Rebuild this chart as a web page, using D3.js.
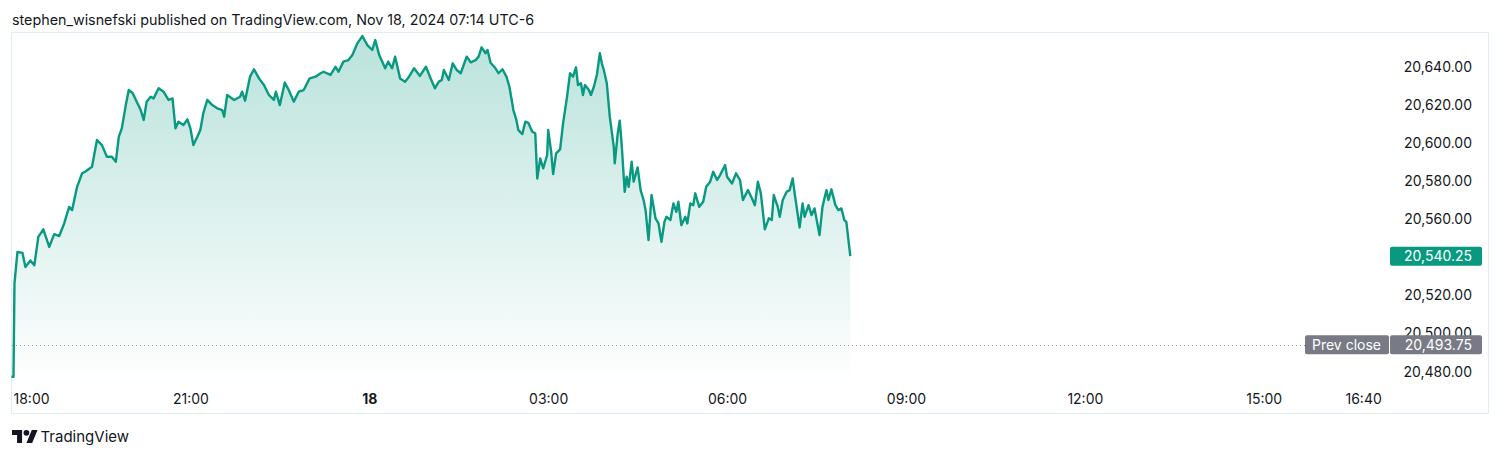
<!DOCTYPE html>
<html><head><meta charset="utf-8">
<script src="https://cdn.jsdelivr.net/npm/d3@7/dist/d3.min.js"></script>
<style>
html,body{margin:0;padding:0;background:#fff;}
svg{display:block;font-family:Inter,"Noto Sans",sans-serif;}
</style></head>
<body>
<svg id="chart" width="1500" height="457"></svg>
<script>
// minutes after 18:00 (Nov 17) and price
const minutes = [0,2,3,6,11,14,19,23,27,32,38,43,48,53,58,61,66,71,74,81,86,91,96,101,105,108,111,115,118,122,126,130,133,136,140,143,148,153,158,162,165,168,173,177,180,183,187,190,193,197,202,207,212,214,217,224,230,232,235,240,244,249,254,259,264,266,270,275,279,284,289,294,300,306,311,314,321,326,329,334,339,343,348,353,358,363,366,370,376,379,383,386,391,396,400,405,411,417,421,426,430,433,435,440,444,448,452,458,462,467,470,473,477,479,482,487,490,494,498,501,505,508,510,514,517,520,524,527,529,532,535,539,540,543,545,548,552,555,559,562,565,568,570,573,575,577,581,583,586,589,592,594,596,599,602,606,607,610,612,614,617,619,621,624,626,630,633,636,638,641,644,648,651,654,657,659,663,666,669,671,674,678,680,683,686,688,692,696,699,703,706,710,713,718,720,725,729,733,736,741,745,748,751,754,758,762,765,767,771,773,776,780,783,786,788,793,796,798,802,805,808,813,816,820,822,825,829,832,835,838,840,844];
const prices = [20477,20477,20526,20542.5,20542,20534.6,20538,20535.5,20550.4,20554.3,20545.1,20551.8,20550.8,20557.4,20566.1,20564.4,20576.6,20583.7,20584.5,20587.1,20601.2,20598.5,20592.4,20592.4,20589.8,20602.9,20607.3,20619.5,20627.4,20625.7,20621.3,20616.9,20611.7,20621.3,20623.9,20623,20628.3,20626.5,20622.2,20623,20607.3,20610.8,20609,20612,20607.3,20598.5,20602.9,20606.4,20615.2,20622.2,20619.5,20617.8,20616.9,20613.4,20624.8,20622.2,20623.9,20626.5,20621.8,20634.4,20638.3,20633.5,20630,20624.8,20622.2,20626.5,20619.5,20631.3,20627.4,20621.3,20626.5,20627.4,20633.5,20634.4,20636.2,20637,20635.3,20639.6,20637,20642.3,20643.1,20645.8,20651.9,20655.7,20651,20648.4,20653.6,20645.8,20638.8,20642.3,20638.8,20644.9,20633.5,20631.8,20634.4,20638.8,20634.8,20639.6,20634.4,20628.3,20631.8,20632.7,20637.9,20632.7,20641.4,20637.9,20636.2,20644.9,20641.9,20643.1,20644.9,20649.8,20646.7,20648.4,20641.7,20638.8,20636.2,20638.3,20634.4,20629.1,20616.9,20611.7,20606.4,20604.3,20610.8,20610.2,20605.5,20604.7,20581,20591.5,20586.3,20593.3,20606.4,20595,20583.3,20594.2,20596.3,20609.9,20623.9,20636.2,20634.4,20639.3,20630,20630.9,20624.8,20630,20627.4,20624.8,20629.1,20635.3,20646.7,20641.4,20637.9,20630.9,20613.4,20597.6,20588.9,20604.7,20611.3,20598.5,20574,20581.9,20576.6,20589.8,20579.3,20586.8,20574.9,20569.7,20564.4,20548.7,20572.3,20560.1,20557.4,20547.8,20558.2,20560.9,20559.2,20567.9,20563.5,20568.8,20556.5,20560.9,20557.4,20567.9,20567,20573.2,20566.1,20568.8,20576.6,20579.3,20584.5,20580.2,20582.8,20588,20581.9,20578.4,20583.7,20580.2,20569.7,20574.9,20570.6,20567,20579.3,20573.2,20554.3,20560.1,20559.2,20572.3,20566.1,20560.9,20569.7,20574,20574.9,20581,20573.2,20555.3,20567.9,20560.9,20567,20561.8,20565.3,20551.3,20566.1,20574.9,20569.7,20575.3,20567,20564.4,20565.3,20559.2,20558.2,20540.25];
const priceTicks = [20480,20500,20520,20540,20560,20580,20600,20620,20640];
const timeTickMinutes = [0,180,360,540,720,900,1080,1260,1360];
const lastPrice = 20540.25;
const prevClose = 20493.75;
const headerText = "stephen_wisnefski published on TradingView.com, Nov 18, 2024 07:14 UTC-6";

const base = new Date(2024,10,17,18,0,0);
const toDate = m => new Date(base.getTime() + m*60000);
const data = minutes.map((m,i)=>({t:toDate(m), v:prices[i]}));

const svg = d3.select("#chart");
const green = "#089981";
const fmt = d3.format(",.2f");

const x = d3.scaleTime().domain([toDate(0), toDate(23*60)]).range([11.5, 1383]);
const y = d3.scaleLinear().domain([20480,20640]).range([371,66]);
const plotBottom = 384;

// header
svg.append("text").attr("x",12).attr("y",24.5).attr("font-size",14.3).attr("fill","#131722").text(headerText);

// frame
svg.append("rect").attr("x",11.5).attr("y",32.5).attr("width",1477).attr("height",381)
  .attr("fill","none").attr("stroke","#dfefec").attr("stroke-width",1);

// gradient
const defs = svg.append("defs");
const grad = defs.append("linearGradient").attr("id","fillGrad").attr("gradientUnits","userSpaceOnUse")
  .attr("x1",0).attr("x2",0).attr("y1",36).attr("y2",plotBottom);
grad.append("stop").attr("offset","0%").attr("stop-color",green).attr("stop-opacity",0.28);
grad.append("stop").attr("offset","100%").attr("stop-color",green).attr("stop-opacity",0.0);

const area = d3.area().x(d=>x(d.t)).y0(plotBottom).y1(d=>y(d.v));
svg.append("path").datum(data).attr("d",area).attr("fill","url(#fillGrad)");

// prev close dotted line
svg.append("line").attr("x1",12).attr("x2",1305).attr("y1",Math.round(y(prevClose))+0.5).attr("y2",Math.round(y(prevClose))+0.5)
  .attr("stroke","#9598a1").attr("stroke-width",1).attr("stroke-dasharray","1,3");

const line = d3.line().x(d=>x(d.t)).y(d=>y(d.v));
svg.append("path").datum(data).attr("d",line).attr("fill","none").attr("stroke",green)
  .attr("stroke-width",2.4).attr("stroke-linejoin","round");

// price axis
const yAxis = d3.axisRight(y).tickValues(priceTicks).tickFormat(fmt).tickSize(0).tickPadding(0);
const ya = svg.append("g").attr("transform","translate(1472,0)").call(yAxis);
ya.select(".domain").remove();
ya.selectAll("text").attr("text-anchor","end").attr("font-family","Inter").attr("font-size",14).attr("fill","#131722").attr("dy","0.36em");

// time axis
const xAxis = d3.axisBottom(x).tickValues(timeTickMinutes.map(toDate)).tickSize(0).tickPadding(0)
  .tickFormat(d => (d.getHours()===0 && d.getMinutes()===0) ? d3.timeFormat("%d")(d) : d3.timeFormat("%H:%M")(d));
const xa = svg.append("g").attr("transform","translate(0,399)").call(xAxis);
xa.select(".domain").remove();
xa.selectAll("text").attr("font-family","Inter").attr("font-size",14).attr("fill","#131722").attr("dy","0.36em")
  .attr("font-weight", d => (d.getHours()===0 && d.getMinutes()===0) ? 700 : 400)
  .attr("text-anchor", (d,i) => i===0 ? "start" : "middle")
  .attr("dx", (d,i) => i===0 ? 1.5 : 0);

// last price label
const ly = y(lastPrice);
svg.append("rect").attr("x",1390).attr("y",ly-9.5).attr("width",92).attr("height",19).attr("rx",2).attr("fill",green);
svg.append("text").attr("x",1472).attr("y",ly).attr("dy","0.36em").attr("text-anchor","end")
  .attr("font-size",14).attr("fill","#fff").text(fmt(lastPrice));

// prev close labels
const py = y(prevClose);
svg.append("rect").attr("x",1305).attr("y",py-9.5).attr("width",84).attr("height",19).attr("rx",2).attr("fill","#787b86");
svg.append("rect").attr("x",1390).attr("y",py-9.5).attr("width",92).attr("height",19).attr("rx",2).attr("fill","#787b86");
svg.append("text").attr("x",1312).attr("y",py).attr("dy","0.36em").attr("font-size",14).attr("fill","#fff").text("Prev close");
svg.append("text").attr("x",1472).attr("y",py).attr("dy","0.36em").attr("text-anchor","end")
  .attr("font-size",14).attr("fill","#fff").text(fmt(prevClose));

// TradingView logo
const logo = svg.append("g").attr("transform","translate(12,427.1) scale(0.72)").attr("fill","#131722");
logo.append("path").attr("d","M14 22H7V11H0V4h14v18zM28 22h-8l7.5-18h8L28 22z");
logo.append("circle").attr("cx",20).attr("cy",8).attr("r",4);
svg.append("text").attr("x",40.5).attr("y",442).attr("font-size",15).attr("fill","#131722").text("TradingView");
</script>
</body></html>
